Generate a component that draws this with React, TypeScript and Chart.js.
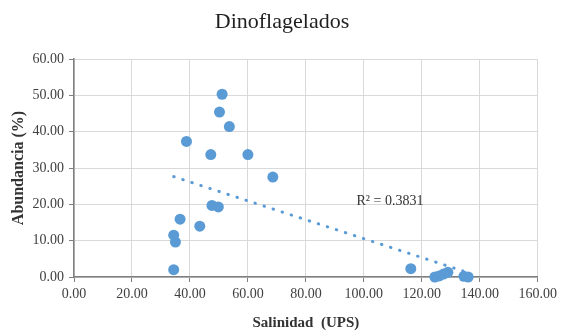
import React, { useEffect, useRef } from "react";
import { Chart, registerables } from "chart.js";

Chart.register(...registerables);

// Salinity (UPS) and dinoflagellate abundance (%) per sample
const salinidad: number[] = [
  51.1, 50.2, 53.6, 38.8, 47.2, 60.0, 68.6, 47.6, 49.8, 36.6, 43.4,
  34.4, 35.0, 34.4, 116.2, 124.5, 126.0, 127.5, 129.0, 134.5, 136.0,
];
const abundancia: number[] = [
  50.3, 45.4, 41.4, 37.3, 33.7, 33.7, 27.5, 19.7, 19.3, 15.9, 14.0,
  11.5, 9.6, 2.0, 2.3, 0.0, 0.3, 0.8, 1.3, 0.2, 0.0,
];

const titulo = "Dinoflagelados";
const tituloX = "Salinidad  (UPS)";
const tituloY = "Abundancia (%)";
const etiquetaR2 = "R² = 0.3831";
const posR2 = { x: 109, y: 20.7 };

const ejeX = { min: 0, max: 160, step: 20 };
const ejeY = { min: 0, max: 60, step: 10 };

const azul = "#5B9BD5";
const serif = "'Liberation Serif', 'Times New Roman', serif";

// Least-squares linear trend across the sampled salinity range
function tendencia(xs: number[], ys: number[]) {
  const n = xs.length;
  const mx = xs.reduce((a, b) => a + b, 0) / n;
  const my = ys.reduce((a, b) => a + b, 0) / n;
  let sxy = 0;
  let sxx = 0;
  for (let i = 0; i < n; i++) {
    sxy += (xs[i] - mx) * (ys[i] - my);
    sxx += (xs[i] - mx) * (xs[i] - mx);
  }
  const m = sxy / sxx;
  const b = my - m * mx;
  const x0 = Math.min(...xs);
  const x1 = Math.max(...xs);
  return [
    { x: x0, y: m * x0 + b },
    { x: x1, y: m * x1 + b },
  ];
}

const textos = {
  id: "textos",
  afterDraw(chart: any) {
    const { ctx, chartArea, scales } = chart;
    ctx.save();
    ctx.fillStyle = "#1f1f1f";
    ctx.textAlign = "center";
    ctx.textBaseline = "middle";

    ctx.font = `22px ${serif}`;
    ctx.fillText(titulo, 282, 22);

    ctx.font = `bold 15px ${serif}`;
    ctx.fillStyle = "#333333";
    ctx.fillText(tituloX, (chartArea.left + chartArea.right) / 2, 323);

    ctx.save();
    ctx.translate(19, (chartArea.top + chartArea.bottom) / 2);
    ctx.rotate(-Math.PI / 2);
    ctx.font = `bold 16px ${serif}`;
    ctx.fillText(tituloY, 0, 0);
    ctx.restore();

    ctx.font = `14px ${serif}`;
    ctx.fillStyle = "#333333";
    ctx.fillText(
      etiquetaR2,
      scales.x.getPixelForValue(posR2.x),
      scales.y.getPixelForValue(posR2.y)
    );
    ctx.restore();
  },
};

export default function App() {
  const ref = useRef<HTMLCanvasElement | null>(null);

  useEffect(() => {
    document.body.style.margin = "0";
    const canvas = ref.current;
    if (!canvas) return;
    const puntos = salinidad.map((x, i) => ({ x, y: abundancia[i] }));
    const linea = tendencia(salinidad, abundancia);

    const chart = new Chart(canvas, {
      type: "scatter",
      data: {
        datasets: [
          {
            label: "Dinoflagelados",
            data: puntos,
            backgroundColor: azul,
            borderColor: azul,
            pointRadius: 5.5,
            pointHoverRadius: 5.5,
            borderWidth: 0,
            clip: false,
          } as any,
          {
            type: "line",
            label: "Tendencia",
            data: linea,
            borderColor: azul,
            borderWidth: 3,
            borderDash: [0.5, 9],
            borderCapStyle: "round",
            pointRadius: 0,
            fill: false,
            tension: 0,
          } as any,
        ],
      },
      options: {
        animation: false,
        responsive: false,
        devicePixelRatio: 1,
        layout: { padding: { top: 59, right: 23, bottom: 0, left: 0 } },
        plugins: {
          legend: { display: false },
          title: { display: false },
          tooltip: { enabled: false },
        },
        scales: {
          x: {
            type: "linear",
            min: ejeX.min,
            max: ejeX.max,
            afterFit: (s: any) => {
              s.height = 57;
            },
            ticks: {
              stepSize: ejeX.step,
              padding: 4,
              color: "#404040",
              font: { family: serif, size: 14 },
              callback: (v: any) => Number(v).toFixed(2),
            },
            grid: {
              color: "#d9d9d9",
              lineWidth: 1,
              tickColor: "#7f7f7f",
              tickLength: 5,
            },
            border: { display: true, color: "#7f7f7f", width: 1.5 },
          },
          y: {
            type: "linear",
            min: ejeY.min,
            max: ejeY.max,
            afterFit: (s: any) => {
              s.width = 74;
            },
            ticks: {
              stepSize: ejeY.step,
              padding: 5,
              color: "#404040",
              font: { family: serif, size: 14 },
              callback: (v: any) => Number(v).toFixed(2),
            },
            grid: {
              color: "#d9d9d9",
              lineWidth: 1,
              tickColor: "#7f7f7f",
              tickLength: 5,
            },
            border: { display: true, color: "#7f7f7f", width: 1.5 },
          },
        },
      },
      plugins: [textos],
    });

    return () => chart.destroy();
  }, []);

  return (
    <div style={{ position: "relative", width: 561, height: 334, background: "#ffffff" }}>
      <canvas ref={ref} width={561} height={334} />
    </div>
  );
}
